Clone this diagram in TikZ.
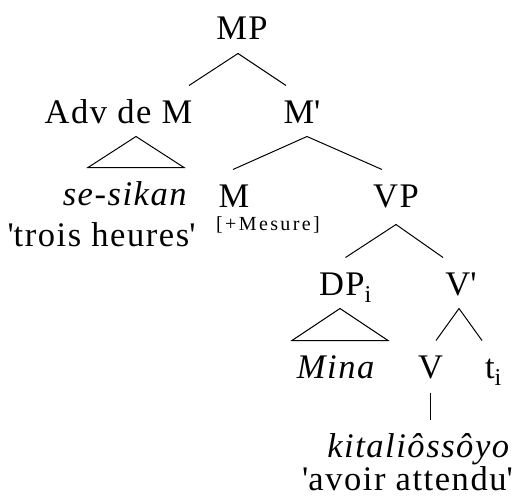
\documentclass[tikz,border=0pt]{standalone}
\usepackage{fontspec}
\setmainfont{Liberation Serif}[LetterSpace=4.5]
\newfontfamily\smallfont{Liberation Serif}[LetterSpace=12]
\newcommand{\q}{\textquotesingle}
\begin{document}
\begin{tikzpicture}[x=1pt, y=-1pt, line width=1pt,
  lbl/.style={anchor=base, inner xsep=0pt, inner ysep=0pt, text height=37pt, text depth=13pt, font=\fontsize{34.5}{40}\selectfont},
  feat/.style={anchor=base, inner sep=0pt, font=\smallfont\fontsize{20}{24}\selectfont}]
\useasboundingbox (0,0) rectangle (527,503);
\node[lbl] (mp) at (242,40) {MP};
\node[lbl] (adv) at (118.5,123) {Adv de M};
\node[lbl] (mbar) at (302,123) {M\q};
\node[lbl, text depth=6pt] (sesikan) at (125.5,205) {\textit{se-sikan}};
\node[lbl, text height=24pt] (trois) at (101.5,246) {\q trois heures\q};
\node[lbl] (m) at (234,207) {M};
\node[feat] (mesure) at (268,230) {[+Mesure]};
\node[lbl] (vp) at (396,207) {VP};
\node[lbl] (dp) at (345.5,295) {DP\textsubscript{i}};
\node[lbl] (vbar) at (461,295) {V\q};
\node[lbl] (mina) at (336.5,378) {\textit{Mina}};
\node[lbl] (v) at (430.5,378) {V};
\node[lbl] (t) at (493.5,378) {t\textsubscript{i}};
\node[lbl, text depth=6pt] (kita) at (419,457.5) {\textit{kitaliôssôyo}};
\node[lbl, text height=24pt] (avoir) at (407.5,490) {\q avoir attendu\q};
% MP
\draw ([xshift=-4pt]mp.south) -- ([xshift=70.5pt]adv.north);
\draw ([xshift=-4pt]mp.south) -- ([xshift=-16pt]mbar.north);
% roofs
\draw ([xshift=17.5pt]adv.south) -- ([xshift=-37.5pt]sesikan.north) -- ([xshift=58.5pt]sesikan.north) -- cycle;
\draw ([xshift=-5.5pt]dp.south) -- ([xshift=-44.5pt]mina.north) -- ([xshift=51.5pt]mina.north) -- cycle;
% M'
\draw ([xshift=5pt]mbar.south) -- ([xshift=-1pt]m.north);
\draw ([xshift=5pt]mbar.south) -- ([xshift=-14pt]vp.north);
% VP
\draw ([yshift=-4pt]vp.south) -- (dp.north);
\draw ([yshift=-4pt]vp.south) -- ([xshift=-18pt]vbar.north);
% V'
\draw ([xshift=-2pt]vbar.south) -- ([xshift=5.5pt]v.north);
\draw ([xshift=-2pt]vbar.south) -- ([xshift=-11.5pt]t.north);
\draw ([yshift=-1pt]v.south) -- (v.south |- kita.north);
\end{tikzpicture}
\end{document}
